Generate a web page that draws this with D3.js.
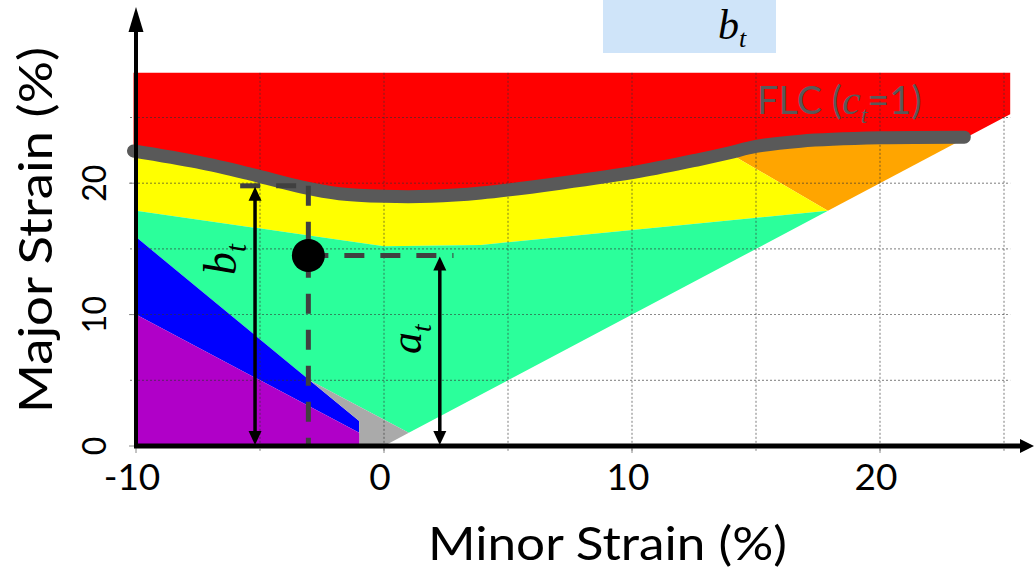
<!DOCTYPE html>
<html>
<head>
<meta charset="utf-8">
<script src="https://cdn.jsdelivr.net/npm/d3@7"></script>
<style>
  body { margin: 0; background: #fff; }
  svg { display: block; }
</style>
</head>
<body>
<svg id="chart" width="1034" height="574"></svg>
<script>
// axis ticks and grid
const minorTicks = [-10, 0, 10, 20];
const majorTicks = [0, 10, 20];
const gridMinor = [-5, 0, 5, 10, 15, 20, 25];
const gridMajor = [5, 10, 15, 20, 25];

// forming limit curve (minor %, major %)
const flcMinor = [-10.1, -7.5, -5.4, -3.3, -1.8, 0, 1.9, 3.9, 7.1, 10.3, 12.7, 13.9, 15.0, 16.8, 20.0, 23.4];
const flcMajor = [22.45, 21.6, 20.7, 19.7, 19.2, 19.0, 19.0, 19.25, 20.0, 20.9, 21.8, 22.3, 22.8, 23.2, 23.45, 23.5];
const flc = flcMinor.map((m, i) => [m, flcMajor[i]]);

// zone corners (minor %, major %)
const topMajor = 28.4;
const rightMinor = 25.25;
const orangeTip = [17.9, 17.9];
const yellowFloor = [[3.9, 15.3], [0, 15.2], [-3.3, 16.1], [-10, 17.9]];
const blueEdge = [[-10, 15.9], [-3, 5], [-1, 1.9]];
const purpleEdge = [[-10, 10], [-1, 1]];

const redZone = [[-10.1, topMajor], [rightMinor, topMajor], [rightMinor, rightMinor], [23.4, 23.4]]
  .concat(flc.slice().reverse());
const orangeZone = flc.filter(p => p[0] >= 13.9).concat([[23.4, 23.4], orangeTip]);
const yellowZone = flc.filter(p => p[0] <= 13.9).concat([orangeTip], yellowFloor);
const greenZone = yellowFloor.slice().reverse().concat([orangeTip, [1, 1], [-3, 5], [-10, 15.9]]);
const blueZone = blueEdge.concat([[-1, 1], [-10, 10]]);
const greyZone = [[-3, 5], [1, 1], [0, 0], [-1, 0], [-1, 1.9]];
const purpleZone = purpleEdge.concat([[-1, 0], [-10, 0]]);

const zones = [
  { pts: redZone, color: "#ff0000" },
  { pts: orangeZone, color: "#ffa500" },
  { pts: yellowZone, color: "#ffff00" },
  { pts: greenZone, color: "#2bff9b" },
  { pts: blueZone, color: "#0000ff" },
  { pts: greyZone, color: "#aaaaaa" },
  { pts: purpleZone, color: "#b000c8" }
];

// strain point and its measures
const pointMinor = -3.05;
const pointMajor = 14.5;
const btMajor = 19.8;
const btArrowMinor = -5.2;
const atArrowMinor = 2.25;
const dashLeft = -5.8;
const dashRight = 2.8;

const svg = d3.select("#chart");
const x = d3.scaleLinear().domain([-10, 25]).range([136, 1004]);
const y = d3.scaleLinear().domain([0, 25]).range([446, 117.5]);

const sans = "Lato, 'Open Sans', sans-serif";
const serif = "'Liberation Serif', 'DejaVu Serif', serif";

// top box
svg.append("rect")
  .attr("x", 603).attr("y", 0)
  .attr("width", 173).attr("height", 53)
  .attr("fill", "#cfe4f9");
const boxText = svg.append("text")
  .attr("x", 718).attr("y", 39)
  .attr("font-family", serif).attr("font-style", "italic")
  .attr("font-size", 42).attr("fill", "#000");
boxText.append("tspan").text("b");
boxText.append("tspan").attr("font-size", 26).attr("dy", 8).text("t");

// zones
const poly = d3.line().x(d => x(d[0])).y(d => y(d[1]));
zones.forEach(z => {
  svg.append("path")
    .attr("d", poly(z.pts) + "Z")
    .attr("fill", z.color);
});

// grid
gridMinor.forEach(v => {
  svg.append("line")
    .attr("x1", x(v)).attr("x2", x(v))
    .attr("y1", y(topMajor)).attr("y2", y(0) + 6)
    .attr("stroke", "#333").attr("stroke-width", 0.8)
    .attr("stroke-dasharray", "2,2").attr("opacity", 0.8);
});
gridMajor.forEach(v => {
  svg.append("line")
    .attr("x1", x(-10) - 6).attr("x2", x(rightMinor))
    .attr("y1", y(v)).attr("y2", y(v))
    .attr("stroke", "#333").attr("stroke-width", 0.8)
    .attr("stroke-dasharray", "2,2").attr("opacity", 0.8);
});
// small ticks
minorTicks.forEach(v => {
  svg.append("line")
    .attr("x1", x(v)).attr("x2", x(v))
    .attr("y1", y(0)).attr("y2", y(0) + 7)
    .attr("stroke", "#888").attr("stroke-width", 1);
});
majorTicks.forEach(v => {
  svg.append("line")
    .attr("x1", x(-10) - 7).attr("x2", x(-10))
    .attr("y1", y(v)).attr("y2", y(v))
    .attr("stroke", "#888").attr("stroke-width", 1);
});

// FLC line
svg.append("path")
  .attr("d", d3.line().x(d => x(d[0])).y(d => y(d[1])).curve(d3.curveCatmullRom)(flc))
  .attr("fill", "none")
  .attr("stroke", "#595959")
  .attr("stroke-width", 13)
  .attr("stroke-linecap", "round");

const flcText = svg.append("text")
  .attr("x", 757).attr("y", 114)
  .attr("font-family", sans).attr("font-size", 38)
  .attr("fill", "#595959");
flcText.append("tspan").text("FLC (");
flcText.append("tspan").attr("font-family", serif).attr("font-style", "italic")
  .attr("font-size", 42).text("c");
flcText.append("tspan").attr("font-family", serif).attr("font-style", "italic")
  .attr("font-size", 24).attr("dy", 9).text("t");
flcText.append("tspan").attr("dy", -9).text("=1)");

// dashed guides
function dashed(x1, y1, x2, y2) {
  svg.append("line")
    .attr("x1", x(x1)).attr("y1", y(y1))
    .attr("x2", x(x2)).attr("y2", y(y2))
    .attr("stroke", "#404040").attr("stroke-width", 5)
    .attr("stroke-dasharray", "20,16");
}
dashed(dashLeft, btMajor, pointMinor, btMajor);
dashed(pointMinor, btMajor, pointMinor, 0);
dashed(pointMinor, pointMajor, dashRight, pointMajor);

// double arrows
function head(px, py, dir, len, w) {
  // dir: unit vector the tip points to
  const [dx, dy] = dir;
  const bx = px - dx * len, by = py - dy * len;
  const nx = -dy * w / 2, ny = dx * w / 2;
  svg.append("path")
    .attr("d", `M${px},${py}L${bx + nx},${by + ny}L${bx - nx},${by - ny}Z`)
    .attr("fill", "#000");
}
function doubleArrow(mx, top) {
  const px = x(mx), y1 = y(top) + 1, y2 = y(0) - 1;
  svg.append("line")
    .attr("x1", px).attr("x2", px)
    .attr("y1", y1 + 10).attr("y2", y2 - 10)
    .attr("stroke", "#000").attr("stroke-width", 3.5);
  head(px, y1, [0, -1], 14, 13);
  head(px, y2, [0, 1], 14, 13);
}
doubleArrow(btArrowMinor, btMajor);
doubleArrow(atArrowMinor, pointMajor);

svg.append("circle")
  .attr("cx", x(pointMinor)).attr("cy", y(pointMajor))
  .attr("r", 16.5).attr("fill", "#000");

// rotated math labels
function mathLabel(tx, ty, base, sub, size) {
  const t = svg.append("text")
    .attr("transform", `translate(${tx},${ty}) rotate(-90)`)
    .attr("font-family", serif).attr("font-style", "italic")
    .attr("font-size", size).attr("fill", "#000");
  t.append("tspan").text(base);
  t.append("tspan").attr("font-size", size * 0.62).attr("dy", 10).text(sub);
}
mathLabel(236, 275, "b", "t", 46);
mathLabel(421, 354, "a", "t", 44);

// axes
svg.append("line")
  .attr("x1", x(-10)).attr("x2", x(-10))
  .attr("y1", y(0) + 2).attr("y2", 28)
  .attr("stroke", "#000").attr("stroke-width", 4);
head(x(-10), 7, [0, -1], 25, 15);
svg.append("line")
  .attr("x1", x(-10) - 2).attr("x2", 1022)
  .attr("y1", y(0)).attr("y2", y(0))
  .attr("stroke", "#000").attr("stroke-width", 5);
head(1034, y(0), [1, 0], 14, 14);

// tick labels
minorTicks.forEach(v => {
  svg.append("text")
    .attr("x", x(v) - 4).attr("y", 490)
    .attr("text-anchor", "middle")
    .attr("font-family", sans).attr("font-size", 37)
    .attr("fill", "#000")
    .text(v);
});
majorTicks.forEach(v => {
  svg.append("text")
    .attr("transform", `translate(106,${y(v)}) rotate(-90)`)
    .attr("text-anchor", "middle")
    .attr("font-family", sans).attr("font-size", 32)
    .attr("fill", "#000")
    .text(v);
});

// axis titles
svg.append("text")
  .attr("x", 428).attr("y", 560)
  .attr("font-family", sans).attr("font-size", 46)
  .attr("textLength", 359).attr("lengthAdjust", "spacingAndGlyphs")
  .attr("fill", "#000")
  .text("Minor Strain (%)");
svg.append("text")
  .attr("transform", "translate(52,413) rotate(-90)")
  .attr("font-family", sans).attr("font-size", 47)
  .attr("textLength", 366).attr("lengthAdjust", "spacingAndGlyphs")
  .attr("fill", "#000")
  .text("Major Strain (%)");
</script>
</body>
</html>
